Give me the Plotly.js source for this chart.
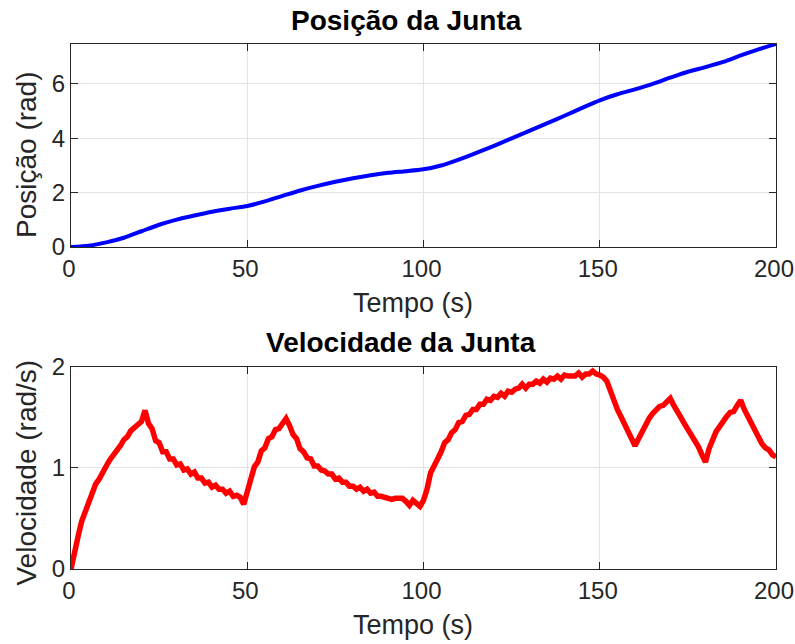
<!DOCTYPE html>
<html>
<head>
<meta charset="utf-8">
<script src="https://cdn.plot.ly/plotly-3.0.1.min.js"></script>
<style>
  html, body { margin: 0; padding: 0; background: #ffffff; }
  #chart { width: 795px; height: 644px; }
</style>
</head>
<body>
<div id="chart"></div>
<script>
// Joint position, sampled every 5 s
const posTime = [0, 5, 10, 15, 20, 25, 30, 35, 40, 45, 50, 55, 60, 65, 70, 75, 80, 85, 90, 95,
  100, 105, 110, 115, 120, 125, 130, 135, 140, 145, 150, 155, 160, 165, 170, 175, 180, 185, 190, 195, 200];
const posValues = [0.00, 0.05, 0.17, 0.34, 0.58, 0.82, 1.01, 1.16, 1.30, 1.41, 1.51, 1.68, 1.88, 2.08, 2.25, 2.40,
  2.53, 2.64, 2.73, 2.79, 2.86, 3.00, 3.22, 3.46, 3.72, 4.00, 4.27, 4.55, 4.83, 5.12, 5.40, 5.62, 5.80,
  6.00, 6.23, 6.45, 6.62, 6.81, 7.05, 7.27, 7.47];

// Joint velocity (measured, noisy), sampled every 1 s (t = 0 .. 200)
const velTime = Array.from({length: 201}, (_, i) => i);
const velValues = [
  0.00, 0.19, 0.32, 0.47, 0.57, 0.68, 0.76, 0.84, 0.89, 0.97,
  1.02, 1.08, 1.12, 1.17, 1.22, 1.28, 1.31, 1.37, 1.40, 1.44,
  1.46, 1.57, 1.44, 1.39, 1.27, 1.25, 1.16, 1.16, 1.09, 1.09,
  1.03, 1.04, 0.98, 0.99, 0.94, 0.96, 0.90, 0.90, 0.85, 0.86,
  0.81, 0.83, 0.79, 0.79, 0.75, 0.77, 0.72, 0.73, 0.71, 0.64,
  0.75, 0.89, 1.01, 1.06, 1.17, 1.20, 1.29, 1.31, 1.38, 1.39,
  1.45, 1.49, 1.42, 1.33, 1.29, 1.19, 1.16, 1.10, 1.09, 1.02,
  1.02, 0.98, 0.97, 0.94, 0.94, 0.89, 0.90, 0.86, 0.86, 0.82,
  0.82, 0.79, 0.81, 0.77, 0.79, 0.75, 0.76, 0.72, 0.72, 0.71,
  0.71, 0.69, 0.70, 0.70, 0.70, 0.67, 0.63, 0.68, 0.65, 0.62,
  0.68, 0.79, 0.95, 1.01, 1.09, 1.16, 1.25, 1.28, 1.35, 1.38,
  1.45, 1.46, 1.52, 1.53, 1.58, 1.58, 1.63, 1.63, 1.68, 1.67,
  1.71, 1.70, 1.74, 1.71, 1.76, 1.75, 1.78, 1.79, 1.83, 1.79,
  1.83, 1.83, 1.86, 1.84, 1.88, 1.85, 1.89, 1.88, 1.91, 1.88,
  1.92, 1.91, 1.91, 1.91, 1.94, 1.90, 1.93, 1.93, 1.96, 1.93,
  1.92, 1.90, 1.86, 1.76, 1.67, 1.58, 1.51, 1.44, 1.38, 1.29,
  1.22, 1.29, 1.36, 1.44, 1.49, 1.54, 1.58, 1.61, 1.62, 1.65,
  1.69, 1.62, 1.57, 1.50, 1.44, 1.38, 1.34, 1.26, 1.21, 1.13,
  1.06, 1.19, 1.28, 1.36, 1.41, 1.47, 1.51, 1.55, 1.56, 1.62,
  1.67, 1.58, 1.51, 1.43, 1.38, 1.29, 1.24, 1.20, 1.18, 1.13,
  1.11
];

const xTicks = [0, 50, 100, 150, 200];
const posTicks = [0, 2, 4, 6];
const velTicks = [0, 1, 2];

const FONT = 'Liberation Sans, Arial, Helvetica, sans-serif';
const TEXT = '#262626';

function axisStyle(extra) {
  return Object.assign({
    showline: true,
    linecolor: TEXT,
    linewidth: 1,
    mirror: 'ticks',
    ticks: 'inside',
    ticklen: 7,
    tickwidth: 1,
    tickcolor: TEXT,
    showgrid: true,
    gridcolor: '#e3e3e3',
    gridwidth: 1,
    zeroline: false,
    ticklabeloverflow: 'allow',
    tickfont: {family: FONT, size: 24, color: TEXT}
  }, extra);
}

const xTitleFont = {family: FONT, size: 27, color: TEXT};
const yTitleFont = {family: FONT, size: 28, color: TEXT};
const titleFont = {family: FONT, size: 28, color: '#000000'};

function label(text, x, y, font, angle) {
  return {
    text: text, xref: 'paper', yref: 'paper', x: x, y: y,
    xanchor: 'center', yanchor: 'middle', textangle: angle || 0,
    showarrow: false, font: font
  };
}

const traces = [
  {
    x: posTime, y: posValues, type: 'scatter', mode: 'lines',
    line: {color: '#0000ff', width: 4, shape: 'spline', smoothing: 0.6},
    xaxis: 'x', yaxis: 'y', hoverinfo: 'x+y', cliponaxis: false
  },
  {
    x: velTime, y: velValues, type: 'scatter', mode: 'lines',
    line: {color: '#ff0000', width: 5.5},
    xaxis: 'x2', yaxis: 'y2', hoverinfo: 'x+y', cliponaxis: false
  }
];

const layout = {
  width: 795, height: 644,
  margin: {l: 71, r: 19, t: 44, b: 75},
  paper_bgcolor: '#ffffff',
  plot_bgcolor: '#ffffff',
  showlegend: false,
  font: {family: FONT, color: TEXT},
  xaxis: axisStyle({
    domain: [0, 1], anchor: 'y', range: [0, 200], ticklabelshift: -2,
    tickvals: xTicks, ticktext: xTicks.map(String)
  }),
  yaxis: axisStyle({
    domain: [0.6133, 1], anchor: 'x', range: [0, 7.47],
    tickvals: posTicks, ticktext: posTicks.map(String)
  }),
  xaxis2: axisStyle({
    domain: [0, 1], anchor: 'y2', range: [0, 200], ticklabelshift: -2,
    tickvals: xTicks, ticktext: xTicks.map(String)
  }),
  yaxis2: axisStyle({
    domain: [0, 0.3848], anchor: 'x2', range: [0, 2],
    tickvals: velTicks, ticktext: velTicks.map(String)
  }),
  annotations: [
    label('<b>Posição da Junta</b>', 0.4759, 1.0448, titleFont),
    label('<b>Velocidade da Junta</b>', 0.4674, 0.4305, titleFont),
    label('Tempo (s)', 0.4851, 0.5067, xTitleFont),
    label('Tempo (s)', 0.4851, -0.1067, xTitleFont),
    label('Posição (rad)', -0.0624, 0.7886, yTitleFont, -90),
    label('Velocidade (rad/s)', -0.0638, 0.1838, yTitleFont, -90)
  ]
};

Plotly.newPlot('chart', traces, layout, {staticPlot: true, displayModeBar: false});
</script>
</body>
</html>
